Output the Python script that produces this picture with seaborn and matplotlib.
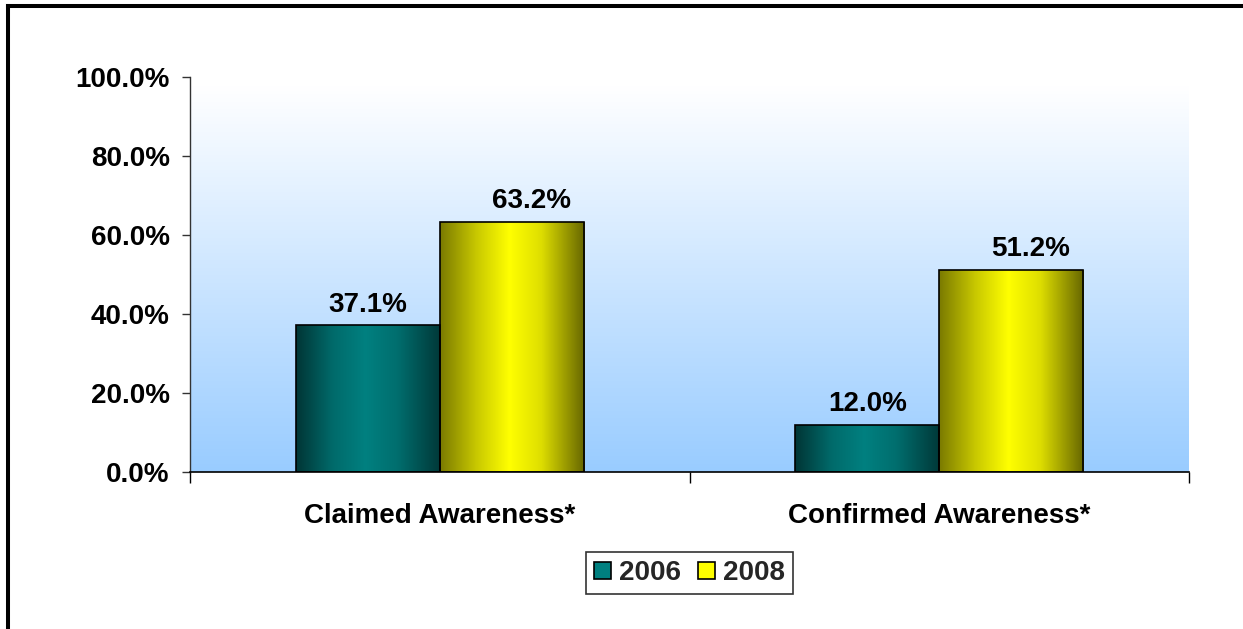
import numpy as np
import pandas as pd
import matplotlib
matplotlib.use("Agg")
import matplotlib.pyplot as plt
from matplotlib.colors import LinearSegmentedColormap
from matplotlib.lines import Line2D
from matplotlib.patches import Patch
from matplotlib.ticker import FuncFormatter
import seaborn as sns

# ---- data ----
categories = ["Claimed Awareness*", "Confirmed Awareness*"]
years = ["2006", "2008"]
values_2006 = [37.1, 12.0]
values_2008 = [63.2, 51.2]
y_ticks = [0, 20, 40, 60, 80, 100]

df = pd.DataFrame({
    "category": categories * 2,
    "year": [years[0]] * len(categories) + [years[1]] * len(categories),
    "value": values_2006 + values_2008,
})

sns.set_style("white")
plt.rcParams["font.family"] = ["Liberation Sans", "DejaVu Sans"]
plt.rcParams["font.weight"] = "bold"

W, H = 1243, 629
fig = plt.figure(figsize=(W / 100, H / 100), dpi=100)
ax = fig.add_axes([190 / W, 1 - 472 / H, 999 / W, 395 / H])

base = {"2006": "#008080", "2008": "#FFFF00"}
shades = {
    "2006": ["#003535", "#006a6a", "#008080", "#006e6e", "#003838"],
    "2008": ["#7a7a00", "#c8c800", "#ffff00", "#dede00", "#666600"],
}

sns.barplot(data=df, x="category", y="value", hue="year",
            order=categories, hue_order=years, palette=base,
            width=0.577, edgecolor="black", linewidth=1.2,
            saturation=1, ax=ax, legend=False)

# vertical gradient behind the plot area
bg_cmap = LinearSegmentedColormap.from_list("bg", ["#ffffff", "#99ccff"])
ax.imshow(np.linspace(0, 1, 256)[:, None], cmap=bg_cmap,
          extent=[-0.5, 1.5, 0, 97.5], aspect="auto", zorder=0,
          interpolation="bicubic")

# cylinder-like shading on each bar, plus value labels
label_dx = {"2006": 0, "2008": 14}
for year, container in zip(years, ax.containers):
    cmap = LinearSegmentedColormap.from_list(
        "bar" + year, list(zip([0, 0.25, 0.48, 0.7, 1.0], shades[year])))
    for bar in container:
        x0, w, h = bar.get_x(), bar.get_width(), bar.get_height()
        im = ax.imshow(np.linspace(0, 1, 256)[None, :], cmap=cmap,
                       extent=[x0, x0 + w, 0, h], aspect="auto",
                       zorder=2, interpolation="bicubic")
        im.set_clip_path(bar)
        bar.set_facecolor("none")
        bar.set_zorder(3)
        ax.annotate(f"{h:.1f}%", xy=(x0 + w / 2, h),
                    xytext=(label_dx[year], 10), textcoords="offset points",
                    ha="center", va="baseline", fontsize=20,
                    fontweight="bold", color="black", zorder=4)

ax.set_xlim(-0.5, 1.5)
ax.set_ylim(0, 100)
ax.set_xlabel("")
ax.set_ylabel("")

ax.set_yticks(y_ticks)
ax.yaxis.set_major_formatter(FuncFormatter(lambda v, _: f"{v:.1f}%"))
ax.tick_params(axis="y", left=True, length=6, width=1, color="#333333",
               pad=8.5, labelsize=20, labelcolor="black")
ax.set_xticks(range(len(categories)))
ax.set_xticklabels(categories)
ax.set_xticks([-0.5, 0.5, 1.5], minor=True)
ax.tick_params(axis="x", which="major", length=0, pad=22.5, labelsize=20,
               labelcolor="black")
ax.tick_params(axis="x", which="minor", bottom=True, length=8, width=1,
               color="black")
for t in ax.get_xticklabels() + ax.get_yticklabels():
    t.set_fontweight("bold")

for side in ("top", "right"):
    ax.spines[side].set_visible(False)
ax.spines["left"].set_color("#333333")
ax.spines["left"].set_linewidth(1)
ax.spines["bottom"].set_color("black")
ax.spines["bottom"].set_linewidth(1.2)

handles = [Patch(facecolor=base[y], edgecolor="black", linewidth=1.2)
           for y in years]
leg = ax.legend(handles, years, loc="center", bbox_to_anchor=(0.5, -0.256),
                ncol=2, frameon=True, fancybox=False, edgecolor="black",
                prop={"size": 20, "weight": "bold"}, handlelength=0.6,
                handleheight=0.6, handletextpad=0.3, columnspacing=0.6,
                borderpad=0.3, borderaxespad=0)
leg.get_frame().set_linewidth(1.2)

# outer frame lines along the top and left edges
fig.add_artist(Line2D([8 / W, 8 / W], [0, 1 - 6 / H], color="black",
                      linewidth=2.9, solid_capstyle="projecting"))
fig.add_artist(Line2D([8 / W, 1], [1 - 6 / H, 1 - 6 / H], color="black",
                      linewidth=2.9, solid_capstyle="projecting"))

fig.savefig("out.png", dpi=100)
